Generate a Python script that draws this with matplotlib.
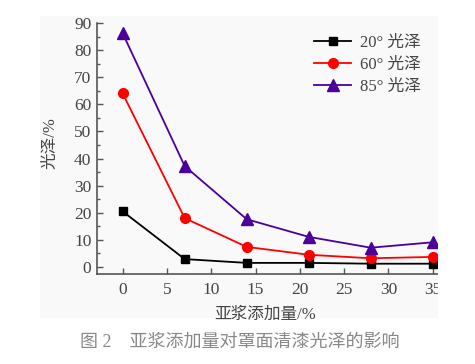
import matplotlib
matplotlib.use("Agg")
import matplotlib.pyplot as plt
from matplotlib.patches import Rectangle
from matplotlib.ticker import MultipleLocator

plt.rcParams['font.family'] = ['Liberation Serif', 'Noto Sans CJK SC']

x = [0, 7, 14, 21, 28, 35]
g20 = [20.5, 2.9, 1.5, 1.5, 1.2, 1.2]
g60 = [64.0, 18.0, 7.4, 4.5, 3.2, 3.7]
g85 = [86.2, 37.2, 17.6, 11.1, 7.1, 9.1]
labels = ["20° 光泽", "60° 光泽", "85° 光泽"]
xlabel = "亚浆添加量/%"
ylabel = "光泽/%"
caption = "图 2    亚浆添加量对罩面清漆光泽的影响"

W, H = 475, 364
fig = plt.figure(figsize=(W / 100, H / 100), dpi=100)
fig.patch.set_facecolor('white')

# light panel background
fig.add_artist(Rectangle((40 / W, 1 - 318 / H), (438 - 40) / W, (318 - 16) / H,
                         transform=fig.transFigure, facecolor='#f9f9f9',
                         edgecolor='none', zorder=-10))

left, right, top, bottom = 97, 446, 23, 274
ax = fig.add_axes([left / W, 1 - bottom / H, (right - left) / W, (bottom - top) / H])
ax.set_facecolor('none')

tc = '#444444'
ax.plot(x, g20, color='black', marker='s', ms=6, lw=1.3, label=labels[0])
ax.plot(x, g60, color='#ff0000', marker='o', ms=7, lw=1.3, label=labels[1])
ax.plot(x, g85, color='#4b0099', marker='^', ms=8, lw=1.3, label=labels[2])

ax.set_xlim(-2.9, 36.5)
ax.set_ylim(-2.6, 90)
ax.xaxis.set_major_locator(MultipleLocator(5))
ax.yaxis.set_major_locator(MultipleLocator(10))
ax.yaxis.set_minor_locator(MultipleLocator(5))
for s in ['top', 'right']:
    ax.spines[s].set_visible(False)
for s in ['left', 'bottom']:
    ax.spines[s].set_color('#555555')
    ax.spines[s].set_linewidth(1.2)
ax.tick_params(which='major', direction='in', length=4, width=1, color='#555555',
               labelsize=12.5, labelcolor=tc)
ax.tick_params(axis='y', which='major', pad=4)
ax.tick_params(axis='x', which='major', pad=6)
ax.tick_params(which='minor', direction='in', length=2.5, width=1, color='#555555')
ax.tick_params(axis='x', which='minor', bottom=False)

ax.set_xlabel(xlabel, fontsize=12, color=tc)
ax.xaxis.set_label_coords((265 - left) / (right - left), -0.13)
ax.set_ylabel(ylabel, fontsize=12, color=tc)
ax.yaxis.set_label_coords(-(left - 58) / (right - left), (bottom - 143) / (bottom - top))

leg = ax.legend(loc='upper right', bbox_to_anchor=((436 - left) / (right - left), 1.012),
                frameon=False, fontsize=12, handlelength=2.2, labelspacing=0.36,
                handletextpad=0.55)
for t in leg.get_texts():
    t.set_color(tc)

# white cover to crop right side like the reference
fig.add_artist(Rectangle((438 / W, 0), 1, 1, transform=fig.transFigure,
                         facecolor='white', edgecolor='none', zorder=10))

fig.text(240 / W, 1 - 342 / H, caption, ha='center', va='center', fontsize=13,
         color='#888888')

fig.savefig('out.png', dpi=100)
